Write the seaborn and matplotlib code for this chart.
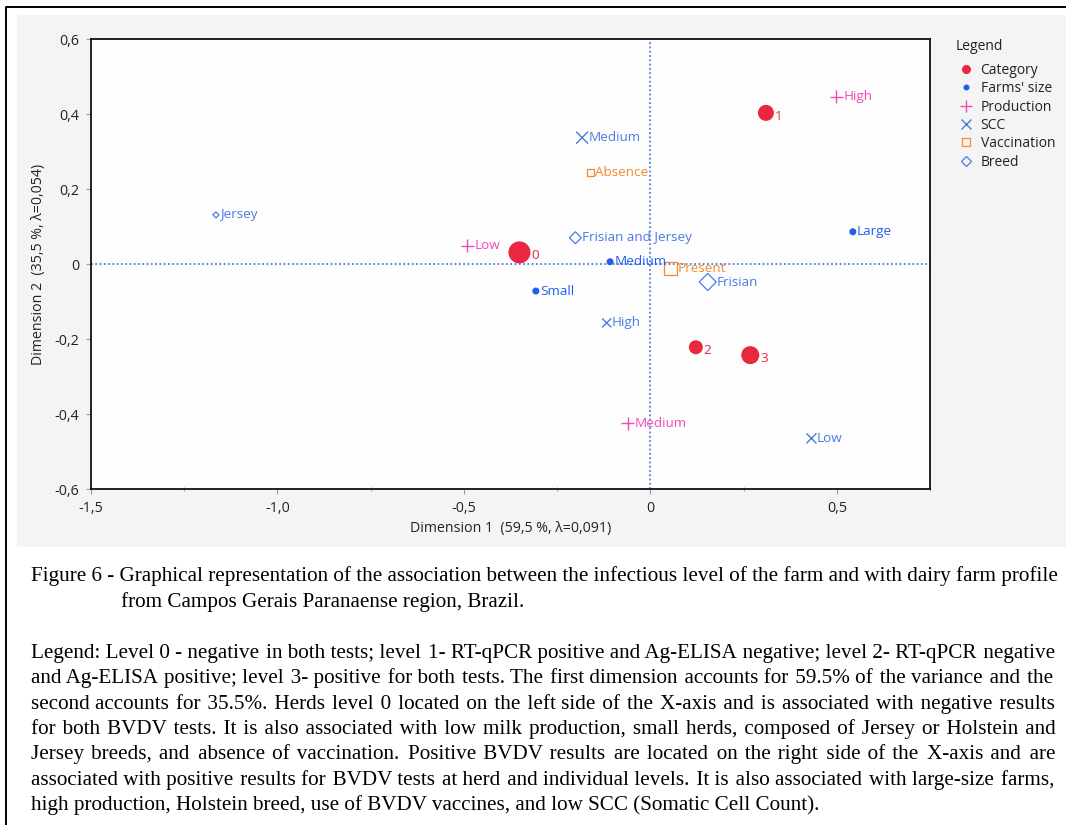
import matplotlib
matplotlib.use("Agg")
import numpy as np
import pandas as pd
import matplotlib.pyplot as plt
import seaborn as sns
from matplotlib.lines import Line2D
from matplotlib.patches import Rectangle
from matplotlib.ticker import FuncFormatter, MultipleLocator

# --- coordinates (Dimension 1, Dimension 2) ---
cat_labels = ['0', '1', '2', '3']
cat_d1 = [-0.351, 0.310, 0.122, 0.268]
cat_d2 = [0.031, 0.403, -0.222, -0.243]

farm_labels = ['Small', 'Medium', 'Large']
farm_d1 = [-0.307, -0.108, 0.543]
farm_d2 = [-0.072, 0.006, 0.086]

prod_labels = ['Low', 'Medium', 'High']
prod_d1 = [-0.491, -0.061, 0.498]
prod_d2 = [0.049, -0.425, 0.446]

scc_labels = ['Medium', 'High', 'Low']
scc_d1 = [-0.183, -0.117, 0.432]
scc_d2 = [0.337, -0.157, -0.465]

vacc_labels = ['Absence', 'Present']
vacc_d1 = [-0.160, 0.055]
vacc_d2 = [0.245, -0.013]

breed_labels = ['Jersey', 'Frisian and Jersey', 'Frisian']
breed_d1 = [-1.165, -0.201, 0.154]
breed_d2 = [0.131, 0.070, -0.048]

# marker widths in px (they follow the weight of each modality)
cat_px = [22, 16, 14, 18]
farm_px = [7, 7, 7]
prod_px = [13, 13, 13]
scc_px = [12, 9, 10]
vacc_px = [7, 13]
breed_px = [6, 12, 17]

caption_title = [
    "Figure 6 - Graphical representation of the association between the infectious level of the farm and with dairy farm profile",
    "from Campos Gerais Paranaense region, Brazil.",
]
caption_body = [
    "Legend: Level 0 - negative in both tests; level 1- RT-qPCR positive and Ag-ELISA negative; level 2- RT-qPCR negative",
    "and Ag-ELISA positive; level 3- positive for both tests. The first dimension accounts for 59.5% of the variance and the",
    "second accounts for 35.5%. Herds level 0 located on the left side of the X-axis and is associated with negative results",
    "for both BVDV tests. It is also associated with low milk production, small herds, composed of Jersey or Holstein and",
    "Jersey breeds, and absence of vaccination. Positive BVDV results are located on the right side of the X-axis and are",
    "associated with positive results for BVDV tests at herd and individual levels. It is also associated with large-size farms,",
    "high production, Holstein breed, use of BVDV vaccines, and low SCC (Somatic Cell Count).",
]

sns.set_style("white")
plt.rcParams['font.family'] = ['Open Sans', 'DejaVu Sans']

W, H = 1066, 825
fig = plt.figure(figsize=(W / 100, H / 100), dpi=100)

# grey panel behind the chart + the black frame of the page
fig.add_artist(Rectangle((17 / W, 1 - 547 / H), 1 - 17 / W, 532 / H,
                         transform=fig.transFigure, facecolor='#f4f4f4', edgecolor='none', zorder=0))
fig.add_artist(Line2D([6 / W, 6 / W, 1], [0, 1 - 7 / H, 1 - 7 / H],
                      transform=fig.transFigure, color='black', lw=1.4))

ax = fig.add_axes([91 / W, 1 - 489 / H, 839 / W, 450 / H])
ax.set_facecolor('#fdfdfd')

PX = 0.72  # points per pixel at 100 dpi

groups = [
    ('Category', cat_labels, cat_d1, cat_d2, cat_px, 'o', '#e8283f'),
    ("Farms' size", farm_labels, farm_d1, farm_d2, farm_px, 'o', '#1f5ef0'),
    ('Production', prod_labels, prod_d1, prod_d2, prod_px, '+', '#f04bb8'),
    ('SCC', scc_labels, scc_d1, scc_d2, scc_px, 'x', '#4f7be0'),
    ('Vaccination', vacc_labels, vacc_d1, vacc_d2, vacc_px, 's', '#f58a2c'),
    ('Breed', breed_labels, breed_d1, breed_d2, breed_px, 'D', '#4a7be6'),
]
legend_ms = {'Category': 6.5, "Farms' size": 4.3, 'Production': 8.6,
             'SCC': 7.0, 'Vaccination': 6.3, 'Breed': 5.6}

handles = []
for name, labels, d1, d2, px, mk, col in groups:
    df = pd.DataFrame({'d1': d1, 'd2': d2, 'label': labels, 'px': px})
    scale = 1 / np.sqrt(2) if mk == 'D' else 1.0
    sizes = (df['px'] * PX * scale) ** 2
    if mk == 'o':
        sns.scatterplot(data=df, x='d1', y='d2', ax=ax, marker=mk, s=sizes,
                        color=col, edgecolor='none', linewidth=0, legend=False, zorder=3)
        hkw = dict(markerfacecolor=col, markeredgewidth=0)
    elif mk in ('+', 'x'):
        sns.scatterplot(data=df, x='d1', y='d2', ax=ax, marker=mk, s=sizes,
                        color=col, linewidth=1.0, legend=False, zorder=3)
        hkw = dict(markeredgewidth=1.0)
    else:
        sns.scatterplot(data=df, x='d1', y='d2', ax=ax, marker=mk, s=sizes,
                        color=col, facecolor='none', edgecolor=col, linewidth=0.9,
                        legend=False, zorder=3)
        hkw = dict(markerfacecolor='none', markeredgewidth=0.9)
    dy = -2.5 if name == 'Category' else 0
    for _, r in df.iterrows():
        ax.annotate(r['label'], (r['d1'], r['d2']), xytext=(r['px'] * PX / 2 + 0.5, dy),
                    textcoords='offset points', ha='left', va='center',
                    fontsize=9.7, color=col, zorder=4)
    handles.append(Line2D([], [], ls='none', marker=mk, markersize=legend_ms[name],
                          color=col, label=name, **hkw))

# dotted reference lines through the origin
ax.axhline(0, color='#3565d8', ls=(0, (1.2, 1.6)), lw=1.1, zorder=1)
ax.axvline(0, color='#3565d8', ls=(0, (1.2, 1.6)), lw=1.1, zorder=1)

ax.set_xlim(-1.5, 0.75)
ax.set_ylim(-0.6, 0.6)
ax.xaxis.set_major_locator(MultipleLocator(0.5))
ax.xaxis.set_minor_locator(MultipleLocator(0.25))
ax.yaxis.set_major_locator(MultipleLocator(0.2))


def comma(v, pos):
    if abs(v) < 1e-9:
        return '0'
    return f'{v:.1f}'.replace('.', ',')


ax.xaxis.set_major_formatter(FuncFormatter(comma))
ax.yaxis.set_major_formatter(FuncFormatter(comma))
ax.tick_params(axis='both', which='major', direction='out', length=3.5, width=0.8,
               color='#999999', labelsize=10.3, labelcolor='#222222', pad=5,
               bottom=True, left=True)
ax.tick_params(axis='x', which='minor', direction='inout', length=3, width=0.8,
               color='#aaaaaa', bottom=True)
for sp in ax.spines.values():
    sp.set_visible(True)
    sp.set_color('#111111')
    sp.set_linewidth(1.3)

ax.set_xlabel('Dimension 1  (59,5 %, λ=0,091)', fontsize=10.2, color='#222222', labelpad=4)
ax.set_ylabel('Dimension 2  (35,5 %, λ=0,054)', fontsize=10.2, color='#222222', labelpad=6)

fig.text(956 / W, 1 - 46 / H, 'Legend', ha='left', va='center', fontsize=10, color='#222222')
leg = ax.legend(handles=handles, loc='upper left', bbox_to_anchor=(957 / W, 1 - 63 / H),
                bbox_transform=fig.transFigure, frameon=False,
                fontsize=10, borderpad=0, handlelength=1.35, handletextpad=0.35,
                labelspacing=0.24, borderaxespad=0)
for t in leg.get_texts():
    t.set_color('#222222')

# caption below the chart, justified like the paper (hair spaces pad the gaps)
renderer = fig.canvas.get_renderer()
cap_kw = dict(family=['Liberation Serif', 'DejaVu Serif'], fontsize=15.2, color='black')
HAIR = '\u200a'


def text_width(s):
    t = fig.text(0, 0, s, **cap_kw)
    w = t.get_window_extent(renderer).width
    t.remove()
    return w


def put_line(text, x0, y_base, x1=None):
    if x1 is not None:
        words = text.split(' ')
        n = len(words) - 1
        w0 = text_width(text)
        hw = (text_width(text.replace(' ', ' ' + HAIR * 10, 1)) - w0) / 10
        total = max(0, int(round((x1 - x0 - w0) / hw))) if hw > 0 else 0
        out = words[0]
        for i in range(n):
            k = ((i + 1) * total) // n - (i * total) // n
            out += ' ' + HAIR * k + words[i + 1]
        text = out
    fig.text(x0 / W, 1 - y_base / H, text, ha='left', va='baseline', **cap_kw)


put_line(caption_title[0], 31, 581, 1055)
put_line(caption_title[1], 121, 606.5)
for i, line in enumerate(caption_body):
    last = i == len(caption_body) - 1
    put_line(line, 31, 658 + i * 25.3, None if last else 1055)

fig.savefig('out.png', dpi=100)
